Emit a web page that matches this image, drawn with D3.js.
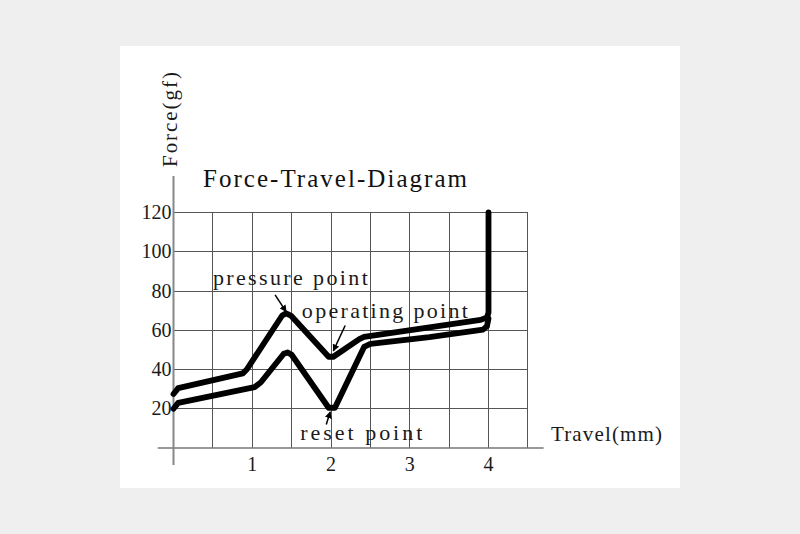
<!DOCTYPE html>
<html>
<head>
<meta charset="utf-8">
<script src="https://cdn.jsdelivr.net/npm/d3@7"></script>
<style>
  html, body { margin: 0; padding: 0; background: #efefef; }
  svg { display: block; }
</style>
</head>
<body>
<svg id="chart" width="800" height="534"></svg>
<script>
// ---- data ----
const xTicks = [1, 2, 3, 4];
const yTicks = [20, 40, 60, 80, 100, 120];
const xGrid = [0.5, 1, 1.5, 2, 2.5, 3, 3.5, 4, 4.5];
const yGrid = [20, 40, 60, 80, 100, 120];

// upper curve: operating (press) force
const upperTravel = [0, 0.06, 0.88, 0.93, 1.38, 1.43, 1.49, 1.97, 2.03, 2.36, 2.42, 3.25, 3.9, 3.98, 4.0, 4.0];
const upperForce  = [27.5, 30.5, 38, 40, 67.5, 68.6, 67.5, 46.5, 46.5, 55.5, 56.6, 61.5, 65.3, 66.5, 69, 120];

// lower curve: return (reset) force
const lowerTravel = [0, 0.06, 1.03, 1.11, 1.40, 1.45, 1.50, 1.97, 2.05, 2.42, 2.5, 3.25, 3.93, 3.98, 4.0];
const lowerForce  = [20, 23, 31, 33.5, 48, 48.7, 47.5, 20.5, 20.5, 51.5, 53, 56.5, 60.3, 62, 66];

const annotationText = ["pressure point", "operating point", "reset point"];
const annotationAt   = [[0.50, 83], [1.63, 66.2], [1.61, 4.1]];      // text anchor (travel, force)
const arrowFrom      = [[1.29, 78], [2.18, 62.4], [1.94, 12.0]];
const arrowTo        = [[1.43, 69.5], [2.03, 49.5], [1.99, 18.4]];

const titleText = "Force-Travel-Diagram";
const yLabel = "Force(gf)";
const xLabel = "Travel(mm)";

// ---- layout ----
const svg = d3.select("#chart");
svg.append("rect").attr("x", 120).attr("y", 46).attr("width", 560).attr("height", 442).attr("fill", "#ffffff");

const x = d3.scaleLinear().domain([0, 4]).range([173.5, 488.5]);
const y = d3.scaleLinear().domain([0, 120]).range([448, 212.5]);

const gridColor = "#555";
const g = svg.append("g");

// horizontal grid
g.selectAll(".hg").data(yGrid).enter().append("line")
  .attr("x1", x(0)).attr("x2", x(4.5))
  .attr("y1", d => y(d)).attr("y2", d => y(d))
  .attr("stroke", gridColor).attr("stroke-width", 1).attr("shape-rendering", "crispEdges");
// vertical grid
g.selectAll(".vg").data(xGrid).enter().append("line")
  .attr("x1", d => x(d)).attr("x2", d => x(d))
  .attr("y1", y(120)).attr("y2", y(0))
  .attr("stroke", gridColor).attr("stroke-width", 1).attr("shape-rendering", "crispEdges");

// axes lines
g.append("line").attr("x1", x(-0.2)).attr("x2", x(4.7)).attr("y1", y(0)).attr("y2", y(0))
  .attr("stroke", "#777").attr("stroke-width", 1.5);
g.append("line").attr("x1", x(0)).attr("x2", x(0)).attr("y1", 176).attr("y2", 465)
  .attr("stroke", "#888").attr("stroke-width", 2);

const serif = "'Liberation Serif', 'Times New Roman', serif";

// tick labels
g.selectAll(".yt").data(yTicks).enter().append("text")
  .attr("x", x(0) - 2).attr("y", d => y(d) + 6.5)
  .attr("text-anchor", "end").attr("font-family", serif).attr("font-size", 20)
  .attr("fill", "#1a1a1a").text(d => d);
g.selectAll(".xt").data(xTicks).enter().append("text")
  .attr("x", d => x(d)).attr("y", 471)
  .attr("text-anchor", "middle").attr("font-family", serif).attr("font-size", 20)
  .attr("fill", "#1a1a1a").text(d => d);

// title
svg.append("text").attr("x", 203).attr("y", 187)
  .attr("font-family", serif).attr("font-size", 25)
  .attr("textLength", 264).attr("lengthAdjust", "spacing")
  .attr("fill", "#111").text(titleText);

// y label
svg.append("text").attr("transform", "translate(177,167) rotate(-90)")
  .attr("font-family", serif).attr("font-size", 21)
  .attr("textLength", 95).attr("lengthAdjust", "spacing")
  .attr("fill", "#1a1a1a").text(yLabel);

// x label
svg.append("text").attr("x", 551).attr("y", 441)
  .attr("font-family", serif).attr("font-size", 21)
  .attr("textLength", 111).attr("lengthAdjust", "spacing")
  .attr("fill", "#1a1a1a").text(xLabel);

// curves
const line = d3.line().x(d => x(d[0])).y(d => y(d[1])).curve(d3.curveLinear);
const upper = upperTravel.map((t, i) => [t, upperForce[i]]);
const lower = lowerTravel.map((t, i) => [t, lowerForce[i]]);
[upper, lower].forEach(pts => {
  svg.append("path").attr("d", line(pts))
    .attr("fill", "none").attr("stroke", "#000").attr("stroke-width", 5.8)
    .attr("stroke-linejoin", "round").attr("stroke-linecap", "round");
});

// annotations
svg.append("defs").append("marker")
  .attr("id", "ah").attr("viewBox", "0 0 10 10").attr("refX", 9).attr("refY", 5)
  .attr("markerWidth", 7).attr("markerHeight", 7).attr("markerUnits", "userSpaceOnUse")
  .attr("orient", "auto")
  .append("path").attr("d", "M0,0 L10,5 L0,10 Z").attr("fill", "#000");

const textLens = [155, 166, 122];
annotationText.forEach((t, i) => {
  svg.append("text").attr("x", x(annotationAt[i][0])).attr("y", y(annotationAt[i][1]))
    .attr("font-family", serif).attr("font-size", 22)
    .attr("textLength", textLens[i]).attr("lengthAdjust", "spacing")
    .attr("fill", "#1a1a1a").text(t);
  svg.append("line")
    .attr("x1", x(arrowFrom[i][0])).attr("y1", y(arrowFrom[i][1]))
    .attr("x2", x(arrowTo[i][0])).attr("y2", y(arrowTo[i][1]))
    .attr("stroke", "#000").attr("stroke-width", 1.5).attr("marker-end", "url(#ah)");
});
</script>
</body>
</html>
